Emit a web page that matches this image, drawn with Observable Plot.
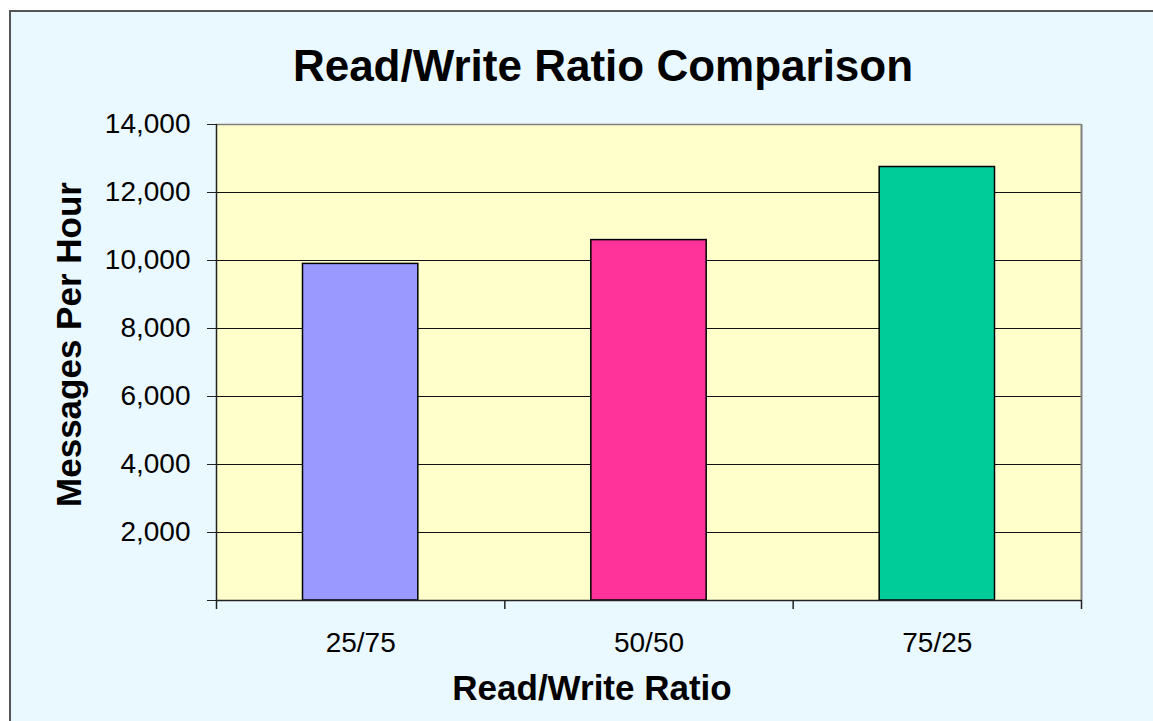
<!DOCTYPE html>
<html>
<head>
<meta charset="utf-8">
<script src="https://cdn.jsdelivr.net/npm/d3@7"></script>
<script src="https://cdn.jsdelivr.net/npm/@observablehq/plot@0.6"></script>
<style>
  html, body { margin: 0; padding: 0; background: #ffffff; width: 1153px; height: 721px; overflow: hidden; }
  #box { position: absolute; left: 9px; top: 10px; width: 1200px; height: 760px; box-sizing: border-box;
         border-left: 2px solid #555; border-top: 2px solid #555; background: #EAF8FF; }
  #title { position: absolute; left: 0; top: 44px; width: 1206px; text-align: center;
           font: bold 44px "Liberation Sans", Arial, sans-serif; line-height: 44px; color: #000; }
  #chart { position: absolute; left: 0; top: 100px; }
</style>
</head>
<body>
<div id="box"></div>
<div id="title">Read/Write Ratio Comparison</div>
<div id="chart"></div>
<script>
const categories = ["25/75", "50/50", "75/25"];
const values = [9900, 10600, 12750];
const barColors = ["#9999FF", "#FF3399", "#00CC99"];
const yTicks = [0, 2000, 4000, 6000, 8000, 10000, 12000, 14000];
const xTitle = "Read/Write Ratio";
const yTitle = "Messages Per Hour";

const data = categories.map((c, i) => ({ratio: c, value: values[i]}));

const W = 1153, H = 621;
const mL = 216, mR = 72, mT = 24, mB = 121;
const step = (W - mL - mR) / categories.length;
const fmt = d3.format(",");

const chart = Plot.plot({
  width: W,
  height: H,
  marginLeft: mL,
  marginRight: mR,
  marginTop: mT,
  marginBottom: mB,
  style: {background: "transparent", fontSize: "28px", fontFamily: "'Liberation Sans', Arial, sans-serif", color: "#000", overflow: "visible"},
  x: {domain: categories, paddingInner: 0.6, paddingOuter: 0.3, align: 0.5, round: false, label: null},
  y: {domain: [0, 14000], label: null},
  color: {domain: categories, range: barColors},
  marks: [
    Plot.frame({fill: "#FFFFCC"}),
    Plot.gridY(yTicks.filter(d => d > 0 && d < 14000), {stroke: "#111", strokeOpacity: 1, strokeWidth: 1}),
    Plot.ruleY([14000], {stroke: "#808080", strokeWidth: 1.5}),
    Plot.ruleX([categories[categories.length - 1]], {y1: 0, y2: 14000, dx: step / 2, stroke: "#808080", strokeWidth: 2}),
    Plot.barY(data, {x: "ratio", y: "value", fill: "ratio", stroke: "#000", strokeWidth: 1.5}),
    Plot.ruleY([0], {stroke: "#222", strokeWidth: 1.5}),
    Plot.ruleX([categories[0]], {y1: 0, y2: 14000, dx: -step / 2, stroke: "#222", strokeWidth: 1.5}),
    Plot.ruleX(categories, {y1: 0, y2: 0, insetBottom: -9, dx: -step / 2, stroke: "#222", strokeWidth: 1.5}),
    Plot.ruleX([categories[categories.length - 1]], {y1: 0, y2: 0, insetBottom: -9, dx: step / 2, stroke: "#222", strokeWidth: 1.5}),
    Plot.axisY(yTicks, {tickSize: 9, tickPadding: 17, stroke: "#222", tickFormat: d => d === 0 ? "" : fmt(d)}),
    Plot.axisX({tickSize: 0, tickPadding: 32, label: null}),
    Plot.text([xTitle], {frameAnchor: "bottom", textAnchor: "middle", dx: -57, dy: 99, fontSize: 35, fontWeight: "bold"}),
    Plot.text([yTitle], {frameAnchor: "left", textAnchor: "middle", rotate: -90, dx: -147, dy: -18, fontSize: 35, fontWeight: "bold"})
  ]
});
document.getElementById("chart").appendChild(chart);
</script>
</body>
</html>
